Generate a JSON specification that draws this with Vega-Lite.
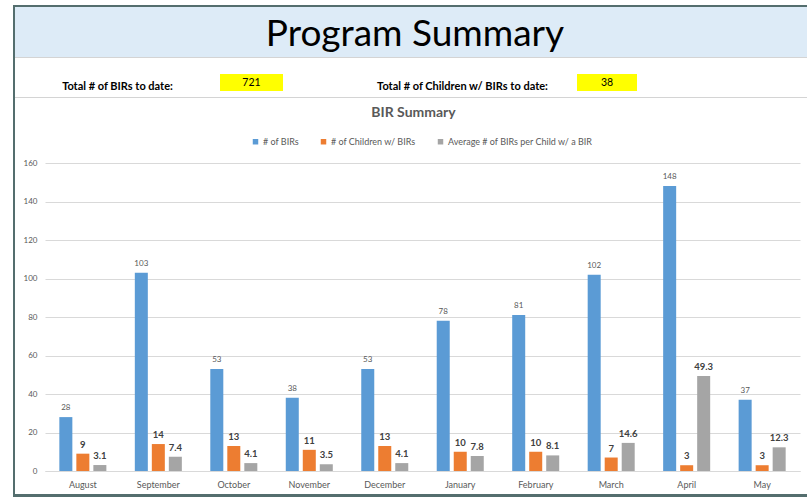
{
  "$schema": "https://vega.github.io/schema/vega-lite/v6.json",
  "padding": {"left": 13, "top": 5, "right": 0, "bottom": 0},
  "background": "white",
  "config": {
    "view": {"stroke": null},
    "font": "Lato",
    "concat": {"spacing": 0},
    "legend": {"layout": {"top": {"anchor": "middle"}}}
  },
  "datasets": {
    "summary": [
      {"item": "Total # of BIRs to date:", "value": 721},
      {"item": "Total # of Children w/ BIRs to date:", "value": 38}
    ],
    "monthly": [
      {"month": "August", "series": "# of BIRs", "value": 28},
      {"month": "August", "series": "# of Children w/ BIRs", "value": 9},
      {"month": "August", "series": "Average # of BIRs  per Child w/ a BIR", "value": 3.1},
      {"month": "September", "series": "# of BIRs", "value": 103},
      {"month": "September", "series": "# of Children w/ BIRs", "value": 14},
      {"month": "September", "series": "Average # of BIRs  per Child w/ a BIR", "value": 7.4},
      {"month": "October", "series": "# of BIRs", "value": 53},
      {"month": "October", "series": "# of Children w/ BIRs", "value": 13},
      {"month": "October", "series": "Average # of BIRs  per Child w/ a BIR", "value": 4.1},
      {"month": "November", "series": "# of BIRs", "value": 38},
      {"month": "November", "series": "# of Children w/ BIRs", "value": 11},
      {"month": "November", "series": "Average # of BIRs  per Child w/ a BIR", "value": 3.5},
      {"month": "December", "series": "# of BIRs", "value": 53},
      {"month": "December", "series": "# of Children w/ BIRs", "value": 13},
      {"month": "December", "series": "Average # of BIRs  per Child w/ a BIR", "value": 4.1},
      {"month": "January", "series": "# of BIRs", "value": 78},
      {"month": "January", "series": "# of Children w/ BIRs", "value": 10},
      {"month": "January", "series": "Average # of BIRs  per Child w/ a BIR", "value": 7.8},
      {"month": "February", "series": "# of BIRs", "value": 81},
      {"month": "February", "series": "# of Children w/ BIRs", "value": 10},
      {"month": "February", "series": "Average # of BIRs  per Child w/ a BIR", "value": 8.1},
      {"month": "March", "series": "# of BIRs", "value": 102},
      {"month": "March", "series": "# of Children w/ BIRs", "value": 7},
      {"month": "March", "series": "Average # of BIRs  per Child w/ a BIR", "value": 14.6},
      {"month": "April", "series": "# of BIRs", "value": 148},
      {"month": "April", "series": "# of Children w/ BIRs", "value": 3},
      {"month": "April", "series": "Average # of BIRs  per Child w/ a BIR", "value": 49.3},
      {"month": "May", "series": "# of BIRs", "value": 37},
      {"month": "May", "series": "# of Children w/ BIRs", "value": 3},
      {"month": "May", "series": "Average # of BIRs  per Child w/ a BIR", "value": 12.3}
    ]
  },
  "spacing": 0,
  "resolve": {"legend": {"color": "independent"}, "scale": {"color": "independent"}},
  "hconcat": [
    {
      "width": 2,
      "height": 492,
      "data": {"values": [{}]},
      "mark": {"type": "rect", "color": "#546E6E"},
      "encoding": {}
    },
    {
      "spacing": 0,
      "resolve": {"legend": {"color": "independent"}, "scale": {"color": "independent"}},
      "vconcat": [
        {
          "width": 792,
          "height": 2,
          "data": {"values": [{}]},
          "mark": {"type": "rect", "color": "#546E6E"},
          "encoding": {}
        },
        {
          "width": 792,
          "height": 50,
          "data": {"values": [{"title": "Program Summary"}]},
          "layer": [
            {"mark": {"type": "rect", "color": "#DDEBF7"}, "encoding": {}},
            {
              "mark": {"type": "text", "fontSize": 37, "color": "#000000", "baseline": "middle", "dy": 3, "dx": 4},
              "encoding": {"text": {"field": "title"}}
            }
          ]
        },
        {
          "width": 792,
          "height": 1,
          "data": {"values": [{}]},
          "mark": {"type": "rect", "color": "#D4D4D4"},
          "encoding": {}
        },
        {
          "spacing": 0,
          "hconcat": [
            {
              "width": 205,
              "height": 39,
              "data": {"name": "summary"},
              "transform": [{"filter": "datum.item == 'Total # of BIRs to date:'"}],
              "mark": {"type": "text", "fontSize": 11, "fontWeight": "bold", "color": "#000000", "baseline": "middle", "dy": 1},
              "encoding": {
                "y": {"field": "item", "type": "nominal", "axis": null, "scale": {"paddingInner": 0, "paddingOuter": 0.647, "align": 0.727}},
                "text": {"field": "item"}
              }
            },
            {
              "width": 63,
              "height": 39,
              "data": {"name": "summary"},
              "transform": [{"filter": "datum.item == 'Total # of BIRs to date:'"}],
              "encoding": {
                "y": {"field": "item", "type": "nominal", "axis": null, "scale": {"paddingInner": 0, "paddingOuter": 0.647, "align": 0.727}}
              },
              "layer": [
                {"mark": {"type": "rect", "color": "#FFFF00"}},
                {
                  "mark": {"type": "text", "fontSize": 10.5, "color": "#000000", "baseline": "middle", "dy": 1},
                  "encoding": {"text": {"field": "value", "type": "nominal"}}
                }
              ]
            },
            {
              "width": 65,
              "height": 39,
              "data": {"values": [{}]},
              "mark": {"type": "rect", "opacity": 0},
              "encoding": {}
            },
            {
              "width": 229,
              "height": 39,
              "data": {"name": "summary"},
              "transform": [{"filter": "datum.item == 'Total # of Children w/ BIRs to date:'"}],
              "mark": {"type": "text", "fontSize": 11, "fontWeight": "bold", "color": "#000000", "baseline": "middle", "dy": 1},
              "encoding": {
                "y": {"field": "item", "type": "nominal", "axis": null, "scale": {"paddingInner": 0, "paddingOuter": 0.647, "align": 0.727}},
                "text": {"field": "item"}
              }
            },
            {
              "width": 60,
              "height": 39,
              "data": {"name": "summary"},
              "transform": [{"filter": "datum.item == 'Total # of Children w/ BIRs to date:'"}],
              "encoding": {
                "y": {"field": "item", "type": "nominal", "axis": null, "scale": {"paddingInner": 0, "paddingOuter": 0.647, "align": 0.727}}
              },
              "layer": [
                {"mark": {"type": "rect", "color": "#FFFF00"}},
                {
                  "mark": {"type": "text", "fontSize": 10.5, "color": "#000000", "baseline": "middle", "dy": 1},
                  "encoding": {"text": {"field": "value", "type": "nominal"}}
                }
              ]
            },
            {
              "width": 170,
              "height": 39,
              "data": {"values": [{}]},
              "mark": {"type": "rect", "opacity": 0},
              "encoding": {}
            }
          ]
        },
        {
          "width": 792,
          "height": 1,
          "data": {"values": [{}]},
          "mark": {"type": "rect", "color": "#D4D4D4"},
          "encoding": {}
        },
        {
          "width": 792,
          "height": 8,
          "data": {"values": [{}]},
          "mark": {"type": "rect", "opacity": 0},
          "encoding": {}
        },
        {
          "spacing": 0,
          "bounds": "flush",
          "resolve": {"legend": {"color": "independent"}, "scale": {"color": "independent"}},
          "hconcat": [
            {
              "width": 30,
              "height": 308,
              "data": {"values": [{}]},
              "mark": {"type": "rect", "opacity": 0},
              "encoding": {}
            },
            {
              "width": 755,
              "height": 308,
              "data": {"name": "monthly"},
              "title": {"text": "BIR Summary", "fontSize": 14, "fontWeight": "bold", "color": "#595959", "anchor": "middle", "frame": "bounds", "offset": 17, "dx": 6},
              "encoding": {
                "x": {
                  "field": "month", "type": "nominal",
                  "sort": ["August", "September", "October", "November", "December", "January", "February", "March", "April", "May"],
                  "scale": {"paddingInner": 0.377, "paddingOuter": 0.19},
                  "axis": {"title": null, "labelAngle": 0, "labelFontSize": 9, "labelColor": "#595959", "domainColor": "#D9D9D9", "ticks": false, "labelPadding": 9}
                },
                "xOffset": {
                  "field": "series", "type": "nominal",
                  "sort": ["# of BIRs", "# of Children w/ BIRs", "Average # of BIRs  per Child w/ a BIR"],
                  "scale": {"paddingInner": 0.235, "paddingOuter": 0}
                },
                "y": {
                  "field": "value", "type": "quantitative",
                  "scale": {"domain": [0, 160]},
                  "axis": {"title": null, "values": [0, 20, 40, 60, 80, 100, 120, 140, 160], "labelFontSize": 8, "labelColor": "#595959", "domain": false, "ticks": false, "gridColor": "#D9D9D9", "labelPadding": 8, "minExtent": 30, "maxExtent": 30}
                }
              },
              "layer": [
                {
                  "mark": {"type": "bar"},
                  "encoding": {
                    "color": {
                      "field": "series", "type": "nominal",
                      "sort": ["# of BIRs", "# of Children w/ BIRs", "Average # of BIRs  per Child w/ a BIR"],
                      "scale": {"domain": ["# of BIRs", "# of Children w/ BIRs", "Average # of BIRs  per Child w/ a BIR"], "range": ["#5B9BD5", "#ED7D31", "#A5A5A5"]},
                      "legend": {"orient": "top", "title": null, "direction": "horizontal", "symbolType": "square", "symbolSize": 30, "symbolStrokeWidth": 0, "labelFontSize": 9, "labelColor": "#595959", "columnPadding": 20, "labelOffset": 3, "offset": 16}
                    }
                  }
                },
                {
                  "transform": [{"filter": "datum.series == '# of BIRs'"}],
                  "mark": {"type": "text", "baseline": "bottom", "dy": -5, "fontSize": 8, "color": "#595959"},
                  "encoding": {"text": {"field": "value", "type": "nominal"}}
                },
                {
                  "transform": [{"filter": "datum.series != '# of BIRs'"}],
                  "mark": {"type": "text", "baseline": "bottom", "dy": -4, "fontSize": 9.5, "fontWeight": "bold", "color": "#404040"},
                  "encoding": {"text": {"field": "value", "type": "nominal"}}
                }
              ]
            }
          ]
        },
        {
          "width": 792,
          "height": 5,
          "data": {"values": [{}]},
          "mark": {"type": "rect", "opacity": 0},
          "encoding": {}
        },
        {
          "width": 792,
          "height": 3,
          "data": {"values": [{}]},
          "mark": {"type": "rect", "color": "#546E6E"},
          "encoding": {}
        }
      ]
    }
  ]
}
